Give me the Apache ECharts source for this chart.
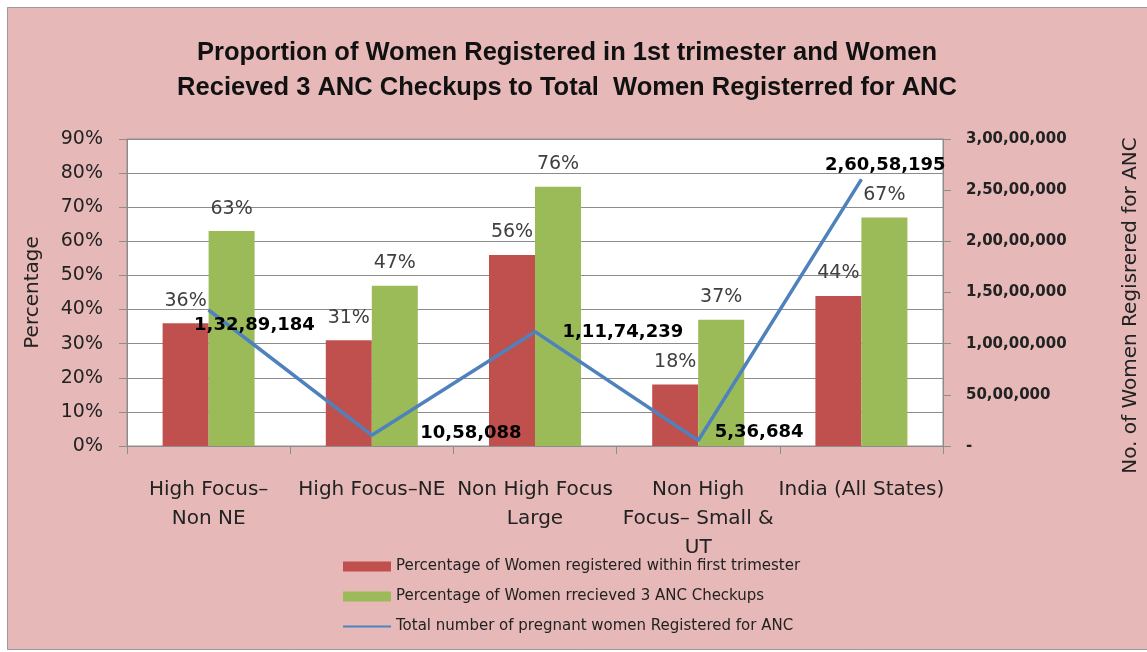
<!DOCTYPE html>
<html>
<head>
<meta charset="utf-8">
<script src="https://cdn.jsdelivr.net/npm/echarts@6/dist/echarts.min.js"></script>
<style>
  html, body { margin: 0; padding: 0; background: #fff; }
  #chart { width: 1147px; height: 652px; }
</style>
</head>
<body>
<div id="chart"></div>
<script>
// data
const categories = ['High Focus–\nNon NE', 'High Focus–NE', 'Non High Focus\nLarge', 'Non High\nFocus– Small &\nUT', 'India (All States)']
const firstTrimester = [36, 31, 56, 18, 44]
const threeAncCheckups = [63, 47, 76, 37, 67]
const totalRegistered = [13289184, 1058088, 11174239, 536684, 26058195]
const seriesNames = [
  'Percentage of Women registered within first trimester',
  'Percentage of Women rrecieved 3 ANC Checkups',
  'Total number of pregnant women Registered for ANC'
]

// where each number label of the line sits, relative to its point
const lineLabelShift = [[-15, 15], [48, -2], [27, 1], [16, -8], [-37, -14]]

// 1,32,89,184 style grouping
function indian(n) {
  if (n === 0) return '-'
  const s = String(Math.round(n))
  if (s.length <= 3) return s
  let last = s.slice(-3)
  let rest = s.slice(0, -3)
  const parts = []
  while (rest.length > 2) {
    parts.unshift(rest.slice(-2))
    rest = rest.slice(0, -2)
  }
  if (rest) parts.unshift(rest)
  return parts.join(',') + ',' + last
}

const font = 'DejaVu Sans'
const chart = echarts.init(document.getElementById('chart'))

const option = {
  backgroundColor: '#E6B9B8',
  animation: false,
  graphic: [
    { type: 'rect', shape: { x: 0, y: 0, width: 1147, height: 7 }, style: { fill: '#fff' }, silent: true },
    { type: 'rect', shape: { x: 0, y: 0, width: 7, height: 652 }, style: { fill: '#fff' }, silent: true },
    { type: 'rect', shape: { x: 0, y: 650, width: 1147, height: 2 }, style: { fill: '#fff' }, silent: true },
    { type: 'polyline', shape: { points: [[1147, 7.5], [7.5, 7.5], [7.5, 649.5], [1147, 649.5]] }, style: { stroke: '#9a9a9a', lineWidth: 1, fill: null }, silent: true }
  ],
  title: {
    text: 'Proportion of Women Registered in 1st trimester and Women\nRecieved 3 ANC Checkups to Total  Women Registerred for ANC',
    left: 562,
    textAlign: 'center',
    top: 30,
    textStyle: {
      fontFamily: 'Liberation Sans',
      fontWeight: 'bold',
      fontSize: 25.5,
      lineHeight: 35,
      color: '#111'
    }
  },
  legend: {
    orient: 'vertical',
    left: 338,
    top: 554,
    itemWidth: 48,
    itemHeight: 10,
    itemGap: 15,
    textStyle: { fontFamily: font, fontSize: 15, color: '#222' },
    data: [
      { name: seriesNames[0], icon: 'rect' },
      { name: seriesNames[1], icon: 'rect' },
      { name: seriesNames[2], icon: 'path://M0,0 L48,0 L48,2 L0,2 Z' }
    ]
  },
  grid: {
    left: 127,
    right: 204,
    top: 139,
    bottom: 206,
    outerBoundsMode: 'none',
    containLabel: false,
    show: true,
    backgroundColor: '#fff',
    borderColor: '#8c8c8c',
    borderWidth: 1
  },
  xAxis: {
    type: 'category',
    data: categories,
    axisLine: { lineStyle: { color: '#8c8c8c' } },
    axisTick: { show: true, length: 8, lineStyle: { color: '#8c8c8c' } },
    axisLabel: {
      interval: 0,
      margin: 29,
      fontFamily: font,
      fontSize: 20,
      lineHeight: 29,
      color: '#222'
    }
  },
  yAxis: [
    {
      type: 'value',
      min: 0,
      max: 90,
      interval: 10,
      name: 'Percentage',
      nameLocation: 'middle',
      nameGap: 84,
      nameTextStyle: { fontFamily: font, fontSize: 20, color: '#222' },
      axisLine: { show: true, lineStyle: { color: '#8c8c8c' } },
      axisTick: { show: true, length: 8, lineStyle: { color: '#8c8c8c' } },
      axisLabel: {
        formatter: '{value}%',
        margin: 24,
        fontFamily: font,
        fontSize: 19,
        color: '#222'
      },
      splitLine: { lineStyle: { color: '#8c8c8c' } }
    },
    {
      type: 'value',
      min: 0,
      max: 30000000,
      interval: 5000000,
      name: 'No. of Women Regisrered for ANC',
      nameLocation: 'middle',
      nameGap: 178,
      nameRotate: 90,
      nameTextStyle: { fontFamily: font, fontSize: 20, color: '#222', padding: [0, 26, 0, 0] },
      axisLine: { show: true, lineStyle: { color: '#8c8c8c' } },
      axisTick: { show: true, length: 8, lineStyle: { color: '#8c8c8c' } },
      axisLabel: {
        formatter: indian,
        margin: 23,
        fontFamily: font,
        fontSize: 15,
        fontWeight: 'bold',
        color: '#222'
      },
      splitLine: { show: false }
    }
  ],
  series: [
    {
      name: seriesNames[0],
      type: 'bar',
      data: firstTrimester,
      barWidth: 46,
      barGap: '0%',
      itemStyle: { color: '#C0504D' },
      label: {
        show: true,
        position: 'top',
        distance: 13,
        formatter: '{c}%',
        fontFamily: font,
        fontSize: 19,
        color: '#404040'
      }
    },
    {
      name: seriesNames[1],
      type: 'bar',
      data: threeAncCheckups,
      barWidth: 46,
      barGap: '0%',
      itemStyle: { color: '#9BBB59' },
      label: {
        show: true,
        position: 'top',
        distance: 13,
        formatter: '{c}%',
        fontFamily: font,
        fontSize: 19,
        color: '#404040'
      }
    },
    {
      name: seriesNames[2],
      type: 'line',
      yAxisIndex: 1,
      z: 5,
      symbol: 'circle',
      symbolSize: 1,
      lineStyle: { color: '#4F81BD', width: 3.5 },
      itemStyle: { color: '#4F81BD' },
      data: totalRegistered.map((v, i) => ({
        value: v,
        label: { offset: lineLabelShift[i] }
      })),
      label: {
        show: true,
        position: 'right',
        distance: 0,
        formatter: p => indian(p.value),
        fontFamily: font,
        fontWeight: 'bold',
        fontSize: 18,
        color: '#000'
      }
    }
  ]
}

chart.setOption(option)

window.onresize = () => {
  chart.resize()
}
</script>
</body>
</html>
